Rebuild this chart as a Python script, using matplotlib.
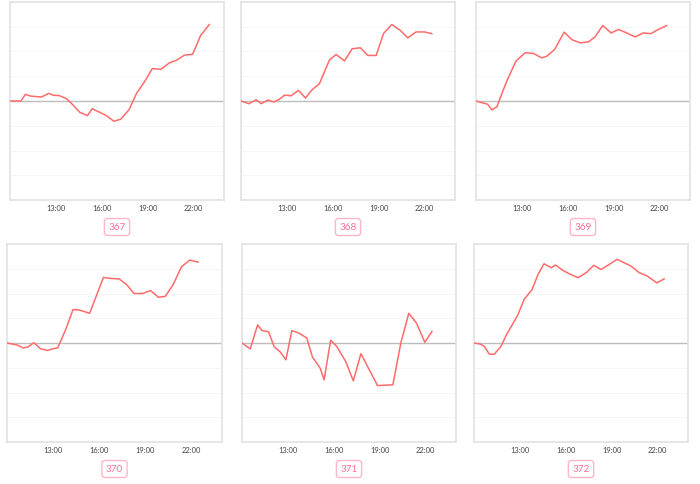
import matplotlib
matplotlib.use('Agg')
import matplotlib.pyplot as plt

plt.rcParams['font.family'] = ['Lato', 'DejaVu Sans']

# 各面板的编号
labels = ['367', '368', '369', '370', '371', '372']

# 时间（小时，十进制）与数值，按面板分开
t367 = [10.0, 10.71, 11.01, 11.34, 12.06, 12.54, 12.83, 13.22, 13.70, 14.09, 14.57, 15.07, 15.38, 15.84,
        16.28, 16.80, 17.26, 17.80, 18.28, 18.83, 19.31, 19.88, 20.42, 20.90, 21.41, 21.95, 22.48, 23.04]
v367 = [0, 0, 0.27, 0.20, 0.16, 0.31, 0.23, 0.22, 0.09, -0.14, -0.46, -0.59, -0.31, -0.45,
        -0.58, -0.82, -0.73, -0.34, 0.31, 0.81, 1.31, 1.28, 1.54, 1.65, 1.85, 1.89, 2.66, 3.09]

t368 = [10.0, 10.52, 11.0, 11.32, 11.76, 12.15, 12.52, 12.85, 13.28, 13.76, 14.22, 14.63, 15.13, 15.79,
        16.22, 16.77, 17.27, 17.81, 18.29, 18.84, 19.32, 19.86, 20.41, 20.91, 21.45, 22.0, 22.48]
v368 = [0, -0.11, 0.05, -0.11, 0.04, -0.04, 0.07, 0.24, 0.21, 0.43, 0.12, 0.44, 0.70, 1.66,
        1.88, 1.62, 2.11, 2.15, 1.84, 1.84, 2.72, 3.09, 2.86, 2.55, 2.79, 2.79, 2.72]

t369 = [10.0, 10.76, 11.04, 11.37, 11.69, 12.06, 12.61, 13.22, 13.76, 14.31, 14.63, 15.14, 15.77,
        16.27, 16.81, 17.36, 17.79, 18.29, 18.84, 19.32, 19.86, 20.41, 20.95, 21.43, 21.93, 22.48]
v369 = [0, -0.13, -0.36, -0.23, 0.30, 0.87, 1.61, 1.95, 1.92, 1.74, 1.81, 2.08, 2.78,
        2.48, 2.35, 2.39, 2.59, 3.05, 2.75, 2.89, 2.75, 2.59, 2.75, 2.72, 2.89, 3.05]

t370 = [10.0, 10.67, 11.06, 11.36, 11.75, 12.18, 12.65, 13.0, 13.3, 13.8, 14.3, 14.66, 15.38,
        16.28, 16.71, 17.3, 17.79, 18.27, 18.83, 19.35, 19.85, 20.3, 20.82, 21.36, 21.9, 22.44]
v370 = [0, -0.08, -0.20, -0.16, 0.01, -0.23, -0.30, -0.23, -0.20, 0.51, 1.35, 1.34, 1.20,
        2.65, 2.61, 2.59, 2.36, 2.00, 2.00, 2.12, 1.85, 1.88, 2.36, 3.08, 3.35, 3.27]

t371 = [10.0, 10.54, 11.02, 11.3, 11.74, 12.11, 12.5, 12.87, 13.26, 13.7, 14.24, 14.61, 15.11, 15.37,
        15.8, 16.2, 16.78, 17.28, 17.78, 18.3, 18.87, 19.87, 20.39, 20.91, 21.41, 21.96, 22.43]
v371 = [0, -0.24, 0.73, 0.51, 0.45, -0.16, -0.36, -0.68, 0.50, 0.41, 0.20, -0.57, -1.01, -1.49,
        0.11, -0.14, -0.74, -1.53, -0.43, -1.05, -1.72, -1.69, 0.0, 1.20, 0.81, 0.03, 0.47]

t372 = [10.0, 10.4, 10.68, 11.0, 11.33, 11.76, 12.13, 12.57, 12.85, 13.28, 13.8, 14.19, 14.58, 15.06,
        15.34, 15.82, 16.32, 16.8, 17.34, 17.84, 18.31, 18.86, 19.36, 19.83, 20.27, 20.81, 21.35,
        21.96, 22.44]
v372 = [0, -0.04, -0.14, -0.45, -0.45, -0.14, 0.34, 0.81, 1.11, 1.76, 2.16, 2.77, 3.20, 3.04,
        3.15, 2.93, 2.77, 2.64, 2.84, 3.14, 2.97, 3.18, 3.38, 3.24, 3.11, 2.84, 2.70, 2.43, 2.59]

times = [t367, t368, t369, t370, t371, t372]
values = [v367, v368, v369, v370, v371, v372]

tick_hours = [13, 16, 19, 22]
tick_labels = ['13:00', '16:00', '19:00', '22:00']

W, H = 700, 484
fig = plt.figure(figsize=(7, 4.84), dpi=100, facecolor='w')

# 面板位置（像素）：左、上、宽、高
boxes = [(10, 2, 214, 198), (241, 2, 214, 198), (476, 2, 214, 198),
         (7, 244, 215, 198), (242, 244, 214, 198), (474, 244, 214, 198)]

line_c = '#ff6b6b'
pink = '#ff6f97'

for i in range(6):
    l, t, w, h = boxes[i]
    ax = fig.add_axes([l / W, 1 - (t + h) / H, w / W, h / H])
    ax.plot(times[i], values[i], color=line_c, lw=1.1, zorder=3)
    ax.axhline(0, color='#bdbdbd', lw=1.0, zorder=2)
    for g in [-3, -2, -1, 1, 2, 3]:
        ax.axhline(g, color='#ececec', lw=0.6, ls=(0, (1, 1)), zorder=1)
    ax.set_xlim(10, 24)
    ax.set_ylim(-4, 4)
    ax.set_yticks([])
    ax.set_xticks(tick_hours)
    ax.set_xticklabels(tick_labels, fontsize=5.4, color='#444444')
    ax.tick_params(axis='x', length=0, pad=3.5)
    for s in ax.spines.values():
        s.set_color('#e2e2e2')
        s.set_linewidth(1.2)

    # 下方的编号标签
    cx = (l + w / 2) / W
    cy = 1 - (t + h + 27) / H
    fig.text(cx, cy, labels[i], ha='center', va='center', fontsize=7.2, color=pink,
             bbox=dict(boxstyle='round,pad=0.4,rounding_size=0.3', fc='w', ec='#ffb6c9', lw=1.0))

plt.savefig('out.png', dpi=100, facecolor='w')
